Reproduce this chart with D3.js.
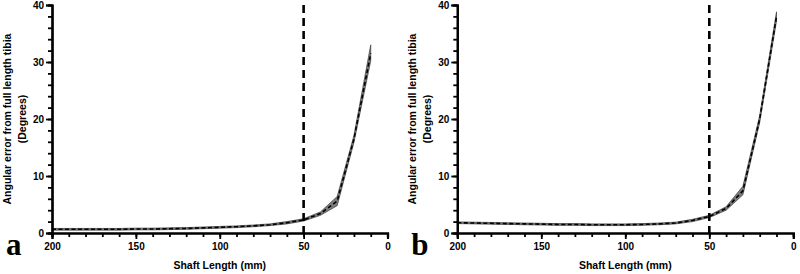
<!DOCTYPE html>
<html>
<head>
<meta charset="utf-8">
<script src="https://cdn.jsdelivr.net/npm/d3@7"></script>
<style>
  body { margin: 0; background: #fff; }
  svg { display: block; }
  text { font-family: "Liberation Sans", Arial, sans-serif; }
</style>
</head>
<body>
<svg width="800" height="274"></svg>
<script>
// shaft lengths (mm)
var shaftLength = [200, 190, 180, 170, 160, 150, 140, 130, 120, 110, 100, 90, 80, 70, 60, 50, 40, 30, 20, 10];

// panel a: mean angular error and CI
var meanA = [0.65, 0.65, 0.65, 0.65, 0.65, 0.7, 0.7, 0.75, 0.8, 0.9, 1.0, 1.1, 1.25, 1.45, 1.8, 2.3, 3.4, 5.6, 16.5, 31.5];
var lowA  = [0.5, 0.5, 0.5, 0.5, 0.5, 0.55, 0.55, 0.6, 0.65, 0.75, 0.85, 0.95, 1.1, 1.3, 1.6, 2.1, 3.1, 4.8, 15.9, 30.2];
var highA = [0.8, 0.8, 0.8, 0.8, 0.8, 0.85, 0.85, 0.9, 0.95, 1.05, 1.15, 1.25, 1.4, 1.6, 2.0, 2.5, 3.7, 6.4, 17.1, 33.0];

// panel b
var meanB = [1.8, 1.75, 1.7, 1.65, 1.6, 1.55, 1.5, 1.5, 1.45, 1.45, 1.45, 1.5, 1.6, 1.75, 2.2, 2.9, 4.3, 7.4, 20, 38];
var lowB  = [1.65, 1.6, 1.55, 1.5, 1.45, 1.4, 1.35, 1.35, 1.3, 1.3, 1.3, 1.35, 1.45, 1.6, 2.0, 2.7, 4.0, 6.7, 19.4, 37.2];
var highB = [1.95, 1.9, 1.85, 1.8, 1.75, 1.7, 1.65, 1.65, 1.6, 1.6, 1.6, 1.65, 1.75, 1.9, 2.4, 3.1, 4.6, 8.2, 20.6, 38.8];

var cutoff = 50;
var xMajor = [200, 150, 100, 50, 0];
var yMajor = [0, 10, 20, 30, 40];
var panelLetters = ["a", "b"];

var svg = d3.select("svg");

var panels = [
    { left: 52, right: 387.5, mean: meanA, low: lowA, high: highA },
    { left: 457.3, right: 793.3, mean: meanB, low: lowB, high: highB }
];

var plotTop = 5, plotBottom = 233;

panels.forEach(function (p, i) {
    var x = d3.scaleLinear().domain([200, 0]).range([p.left, p.right]);
    var y = d3.scaleLinear().domain([0, 40]).range([plotBottom, plotTop]);

    var g = svg.append("g");

    // CI band
    var rows = shaftLength.map(function (s, k) {
        return { s: s, m: p.mean[k], lo: p.low[k], hi: p.high[k] };
    });

    g.append("path")
        .datum(rows)
        .attr("d", d3.area()
            .x(function (d) { return x(d.s); })
            .y0(function (d) { return y(d.lo); })
            .y1(function (d) { return y(d.hi); }))
        .attr("fill", "#7d7d7d")
        .attr("stroke", "#4a4a4a")
        .attr("stroke-width", 0.8);

    g.append("path")
        .datum(rows)
        .attr("d", d3.line()
            .x(function (d) { return x(d.s); })
            .y(function (d) { return y(d.m); }))
        .attr("fill", "none")
        .attr("stroke", "#000")
        .attr("stroke-width", 1.6)
        .attr("stroke-dasharray", "4,2.5");

    // 50 mm cut-off line
    g.append("line")
        .attr("x1", x(cutoff)).attr("x2", x(cutoff))
        .attr("y1", y(40)).attr("y2", y(0))
        .attr("stroke", "#000")
        .attr("stroke-width", 2.6)
        .attr("stroke-dasharray", "8,5");

    // minor ticks
    var xAxisMinor = g.append("g")
        .attr("transform", "translate(0," + plotBottom + ")")
        .call(d3.axisBottom(x).tickValues(d3.range(0, 201, 10)).tickSize(4).tickFormat(""));
    var yAxisMinor = g.append("g")
        .attr("transform", "translate(" + p.left + ",0)")
        .call(d3.axisLeft(y).tickValues(d3.range(0, 41, 2)).tickSize(4).tickFormat(""));

    var xAxis = g.append("g")
        .attr("transform", "translate(0," + plotBottom + ")")
        .call(d3.axisBottom(x).tickValues(xMajor).tickSize(6).tickPadding(4));
    var yAxis = g.append("g")
        .attr("transform", "translate(" + p.left + ",0)")
        .call(d3.axisLeft(y).tickValues(yMajor).tickSize(6).tickPadding(2));

    [xAxisMinor, yAxisMinor, xAxis, yAxis].forEach(function (a) {
        a.selectAll("path.domain").attr("stroke", "#000").attr("stroke-width", 2.2);
        a.selectAll(".tick line").attr("stroke", "#000").attr("stroke-width", 1.8);
        a.selectAll("text")
            .attr("fill", "#000")
            .style("font-family", "'Liberation Sans', Arial, sans-serif")
            .style("font-weight", "bold")
            .style("font-size", "10px");
    });

    // axis titles
    g.append("text")
        .attr("x", (p.left + p.right) / 2)
        .attr("y", 269)
        .attr("text-anchor", "middle")
        .style("font-weight", "bold")
        .style("font-size", "10.5px")
        .text("Shaft Length (mm)");

    var yl = g.append("text")
        .attr("transform", "translate(" + (p.left - 41) + "," + ((plotTop + plotBottom) / 2) + ") rotate(-90)")
        .attr("text-anchor", "middle")
        .style("font-weight", "bold")
        .style("font-size", "10.5px");
    yl.append("tspan").attr("x", 0).attr("dy", 0).text("Angular error from full length tibia");
    yl.append("tspan").attr("x", 0).attr("dy", 15).text("(Degrees)");

    // panel letter
    g.append("text")
        .attr("x", p.left - 46)
        .attr("y", 255)
        .style("font-family", "'Liberation Serif', 'Times New Roman', serif")
        .style("font-weight", "bold")
        .style("font-size", "31px")
        .text(panelLetters[i]);
});
</script>
</body>
</html>
